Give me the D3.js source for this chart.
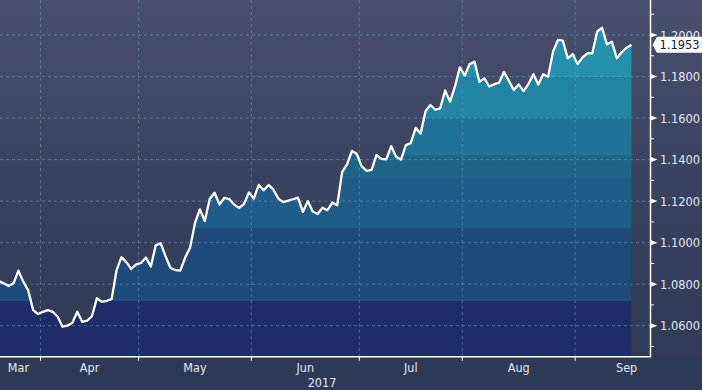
<!DOCTYPE html>
<html><head><meta charset="utf-8">
<script src="https://cdn.jsdelivr.net/npm/d3@7"></script>
<style>html,body{margin:0;padding:0;background:#2d3a55;overflow:hidden}</style>
</head><body><svg id="c" width="702" height="390"></svg>
<script>
// EUR/USD daily closes (weekdays), 21 Mar 2017 .. 18 Sep 2017
const firstDay = [2017, 2, 21];
const lastMonthEnd = [2017, 9, 1];
const values = [
  1.0815,1.0804,1.0791,1.0804,1.0865,1.0812,1.0770,1.0675,1.0656,
  1.0667,1.0675,1.0667,1.0643,1.0595,1.0600,1.0614,1.0667,1.0619,1.0624,1.0646,1.0732,1.0715,1.0720,1.0728,1.0866,1.0930,1.0906,1.0873,1.0895,
  1.0902,1.0928,1.0885,1.0987,1.0997,1.0935,1.0878,1.0868,1.0865,1.0928,1.0976,1.1095,1.1160,1.1104,1.1210,1.1240,1.1184,1.1216,1.1210,1.1183,1.1167,1.1186,1.1242,
  1.1212,1.1278,1.1252,1.1278,1.1255,1.1212,1.1195,1.1202,1.1209,1.1217,1.1148,1.1200,1.1150,1.1138,1.1168,1.1156,1.1193,1.1180,1.1340,1.1377,1.1442,1.1427,
  1.1367,1.1346,1.1350,1.1422,1.1403,1.1401,1.1465,1.1414,1.1400,1.1470,1.1479,1.1553,1.1525,1.1633,1.1663,1.1640,1.1647,1.1733,1.1679,1.1751,1.1844,
  1.1805,1.1860,1.1871,1.1775,1.1791,1.1752,1.1763,1.1770,1.1822,1.1780,1.1735,1.1762,1.1730,1.1765,1.1811,1.1762,1.1811,1.1799,1.1920,1.1976,1.1973,1.1888,1.1908,
  1.1860,1.1891,1.1912,1.1912,1.2016,1.2035,1.1955,1.1968,1.1888,1.1917,1.1939,1.1953
];
const monthNames = ["Mar","Apr","May","Jun","Jul","Aug","Sep"];
const yearLabel = "2017";
const yTicks = [1.06,1.08,1.10,1.12,1.14,1.16,1.18,1.20];
const yMinorTicks = [1.05,1.07,1.09,1.11,1.13,1.15,1.17,1.19,1.21];
const lastLabel = "1.1953";
const bandLimits = [1.072,1.107,1.131,1.142,1.160,1.180];
const bandColors = ["#1c2d69","#1e4a7c","#1f5c89","#1e6689","#1f7398","#2184a3","#2490ac"];

const W = 702, H = 390, plotR = 650, plotB = 356.7;
const svg = d3.select("#c");
const defs = svg.append("defs");
const FONT = "'DejaVu Sans Condensed', 'DejaVu Sans', sans-serif";

const days = d3.timeDay.range(new Date(...firstDay), new Date(...lastMonthEnd))
  .filter(d => d.getDay() !== 0 && d.getDay() !== 6);

const x = d3.scaleLinear().domain([0, values.length - 1]).range([-1.2, 631.5]);
const y = d3.scaleLinear().domain([1.06, 1.20]).range([325.7, 35]);

// background
const bg = defs.append("linearGradient").attr("id","bg").attr("x1",0).attr("y1",0).attr("x2",0).attr("y2",1);
bg.append("stop").attr("offset",0).attr("stop-color","#48506e");
bg.append("stop").attr("offset",0.45).attr("stop-color","#3a435f");
bg.append("stop").attr("offset",1).attr("stop-color","#303a56");
svg.append("rect").attr("width",W).attr("height",plotB).attr("fill","url(#bg)");
svg.append("rect").attr("y",plotB).attr("width",W).attr("height",H-plotB).attr("fill","#2d3a55");

// area band gradient
const ag = defs.append("linearGradient").attr("id","ag").attr("gradientUnits","userSpaceOnUse")
  .attr("x1",0).attr("y1",0).attr("x2",0).attr("y2",plotB);
const lims = bandLimits.slice().reverse();
const cols = bandColors.slice().reverse();
lims.forEach((v,i) => {
  const off = y(v)/plotB;
  ag.append("stop").attr("offset",off).attr("stop-color",cols[i]);
  ag.append("stop").attr("offset",off).attr("stop-color",cols[i+1]);
});
ag.append("stop").attr("offset",1).attr("stop-color",cols[cols.length-1]);

defs.append("clipPath").attr("id","clip").append("rect").attr("width",plotR).attr("height",plotB);
const g = svg.append("g").attr("clip-path","url(#clip)");

const area = d3.area().x((d,i)=>x(i)).y0(plotB).y1(d=>y(d));
g.append("path").datum(values).attr("d",area).attr("fill","url(#ag)");

// month boundaries
const months = [];
monthNames.forEach((name, k) => {
  const m = 2 + k;
  const idx = days.map((d,i)=>[d,i]).filter(p=>p[0].getMonth()===m).map(p=>p[1]);
  months.push({name, first: idx[0], last: idx[idx.length-1]});
});

// grid
g.selectAll(".hg").data(yTicks).join("line")
  .attr("x1",0).attr("x2",plotR).attr("y1",d=>y(d)).attr("y2",d=>y(d))
  .attr("stroke","#6f9cc0").attr("stroke-opacity",0.55).attr("stroke-dasharray","3,3").attr("stroke-width",1);
g.selectAll(".vg").data(months.slice(1)).join("line")
  .attr("x1",d=>x(d.first-0.5)).attr("x2",d=>x(d.first-0.5)).attr("y1",0).attr("y2",plotB)
  .attr("stroke","#6f9cc0").attr("stroke-opacity",0.5).attr("stroke-dasharray","3,3").attr("stroke-width",1);

// line
const line = d3.line().x((d,i)=>x(i)).y(d=>y(d));
g.append("path").datum(values).attr("d",line).attr("fill","none")
  .attr("stroke","#ffffff").attr("stroke-width",2.3).attr("stroke-linejoin","round");

// axes
svg.append("line").attr("x1",0).attr("x2",plotR+1).attr("y1",plotB).attr("y2",plotB).attr("stroke","#fff").attr("stroke-width",1.5);
svg.append("line").attr("x1",plotR+0.5).attr("x2",plotR+0.5).attr("y1",0).attr("y2",plotB).attr("stroke","#fff").attr("stroke-width",1.5);
svg.selectAll(".xt").data(months.slice(1)).join("line")
  .attr("x1",d=>x(d.first-0.5)).attr("x2",d=>x(d.first-0.5)).attr("y1",plotB).attr("y2",plotB+4)
  .attr("stroke","#fff").attr("stroke-width",1);
svg.selectAll(".xl").data(months).join("text")
  .attr("x",d=>Math.max(0,(x(d.first-0.5)+x(d.last+0.5))/2)).attr("y",367.5).attr("dy","0.35em")
  .attr("text-anchor","middle").attr("fill","#e3e8f2").attr("font-family",FONT)
  .attr("font-size",12.5).text(d=>d.name);
svg.append("text").attr("x",plotR/2-3).attr("y",382.7).attr("dy","0.35em").attr("text-anchor","middle")
  .attr("fill","#e3e8f2").attr("font-family",FONT).attr("font-size",12.5).text(yearLabel);

svg.selectAll(".ymt").data(yMinorTicks).join("line")
  .attr("x1",plotR).attr("x2",plotR+4).attr("y1",d=>y(d)).attr("y2",d=>y(d)).attr("stroke","#fff").attr("stroke-width",1);
svg.selectAll(".ytri").data(yTicks).join("path")
  .attr("d",d=>`M${plotR},${y(d)-2.8}L${plotR+7.5},${y(d)}L${plotR},${y(d)+2.8}Z`).attr("fill","#fff");
svg.selectAll(".yl").data(yTicks).join("text")
  .attr("x",660).attr("y",d=>y(d)).attr("dy","0.36em").attr("fill","#e3e8f4")
  .attr("font-family",FONT).attr("font-size",12.5).attr("textLength",40).attr("lengthAdjust","spacingAndGlyphs")
  .text(d=>d.toFixed(4));

// last value marker
const ly = y(values[values.length-1]);
svg.append("path").attr("d",`M652.5,${ly}L657,${ly-8}L704,${ly-8}L704,${ly+8}L657,${ly+8}Z`).attr("fill","#fff");
svg.append("text").attr("x",659.5).attr("y",ly).attr("dy","0.36em").attr("fill","#151b3e")
  .attr("font-family",FONT).attr("font-size",12.5).attr("textLength",40).attr("lengthAdjust","spacingAndGlyphs")
  .text(lastLabel);
</script></body></html>
